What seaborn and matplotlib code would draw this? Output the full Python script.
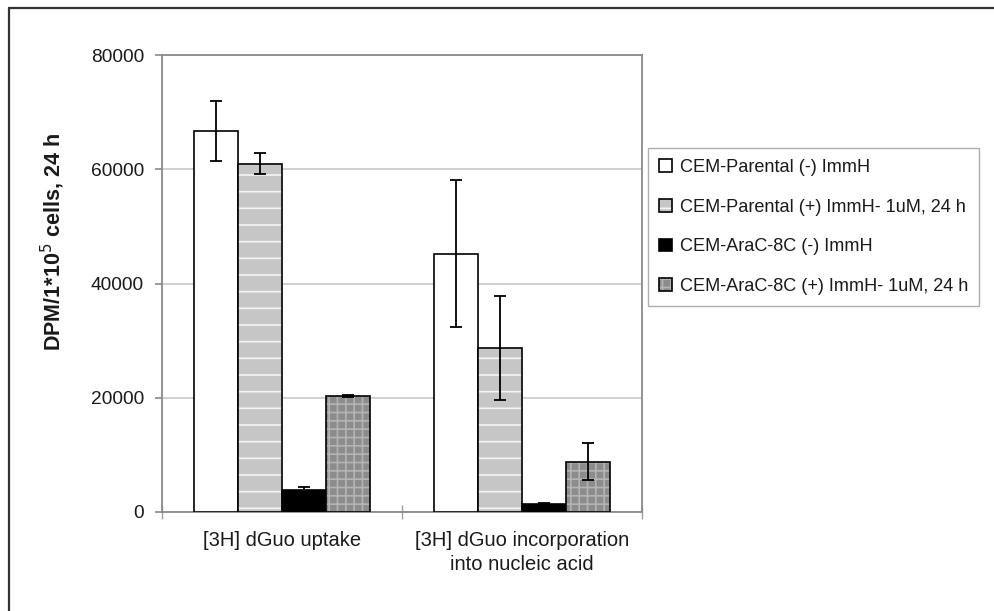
import matplotlib
matplotlib.use("Agg")
import matplotlib.pyplot as plt
from matplotlib.colors import to_rgba
from matplotlib.lines import Line2D
import seaborn as sns
import pandas as pd

# ---- data ----
categories = ["[3H] dGuo uptake", "[3H] dGuo incorporation\ninto nucleic acid"]
conditions = ["CEM-Parental (-) ImmH",
              "CEM-Parental (+) ImmH- 1uM, 24 h",
              "CEM-AraC-8C (-) ImmH",
              "CEM-AraC-8C (+) ImmH- 1uM, 24 h"]
parental_minus = [66700, 45200]
parental_plus = [61000, 28700]
arac_minus = [3900, 1350]
arac_plus = [20300, 8800]
err_parental_minus = [5300, 12900]
err_parental_plus = [1800, 9100]
err_arac_minus = [450, 150]
err_arac_plus = [200, 3200]
yticks = [0, 20000, 40000, 60000, 80000]

values = [parental_minus, parental_plus, arac_minus, arac_plus]
errors = [err_parental_minus, err_parental_plus, err_arac_minus, err_arac_plus]

rows = []
for cond, vals in zip(conditions, values):
    for cat, v in zip(categories, vals):
        rows.append({"assay": cat, "condition": cond, "dpm": v})
df = pd.DataFrame(rows)

# ---- style ----
sns.set_style("white")
plt.rcParams["font.family"] = ["Liberation Sans", "DejaVu Sans"]
plt.rcParams["hatch.linewidth"] = 1.2
text_color = "#1a1a1a"

fig = plt.figure(figsize=(9.95, 6.11), dpi=100)
ax = fig.add_axes([162 / 995, 1 - 512 / 611, 480 / 995, 457 / 611])

palette = {conditions[0]: "#ffffff", conditions[1]: "#c6c6c6",
           conditions[2]: "#000000", conditions[3]: "#8c8c8c"}

sns.barplot(data=df, x="assay", y="dpm", hue="condition", order=categories,
            hue_order=conditions, palette=palette, width=0.733, saturation=1,
            edgecolor="black", linewidth=1.2, errorbar=None, legend=False,
            gap=0, ax=ax, zorder=3)

bar_containers = list(ax.containers)[:4]

# patterns
hatches = [None, "-", None, "++"]
hatch_cols = [None, "#f4f4f4", None, "#b4b4b4"]
for cont, h, hc in zip(bar_containers, hatches, hatch_cols):
    if h is None:
        continue
    for p in cont:
        p.set_hatch(h)
        p._hatch_color = to_rgba(hc)

# error bars
for cont, err in zip(bar_containers, errors):
    xs = [p.get_x() + p.get_width() / 2 for p in cont]
    ys = [p.get_height() for p in cont]
    ax.errorbar(xs, ys, yerr=err, fmt="none", ecolor="black",
                elinewidth=1.3, capsize=4.5, capthick=1.3, zorder=4)

# axes
ax.set_ylim(0, 80000)
ax.set_xlim(-0.5, 1.5)
ax.set_yticks(yticks)
ax.set_yticklabels([str(t) for t in yticks], fontsize=13.8, color=text_color)
ax.yaxis.grid(True, color="#c8c8c8", linewidth=1.2, zorder=0)
ax.xaxis.grid(False)
ax.set_axisbelow(True)
for s in ax.spines.values():
    s.set_color("#8a8a8a")
    s.set_linewidth(1.3)
ax.tick_params(axis="y", direction="out", length=5, width=1.2,
               color="#8a8a8a", pad=8, left=True)
ax.set_xticks([0, 1])
ax.set_xticklabels(categories, fontsize=14.5, color=text_color, linespacing=1.35)
ax.tick_params(axis="x", which="major", length=0, pad=13.5)
ax.set_xticks([-0.5, 0.5, 1.5], minor=True)
ax.tick_params(axis="x", which="minor", direction="inout", length=10,
               width=1.0, color="#a0a0a0", bottom=True)
ax.set_xlabel("")
ax.set_ylabel(r"DPM/1*10$^{5}$ cells, 24 h", fontsize=15.5,
              fontweight="bold", color=text_color)
ax.yaxis.set_label_coords(-0.198, 0.59)

# legend
leg = ax.legend(handles=bar_containers, labels=conditions,
                loc="upper left", bbox_to_anchor=(648 / 995, 1 - 148 / 611),
                bbox_transform=fig.transFigure, fontsize=13.1,
                frameon=True, fancybox=False, shadow=False,
                handlelength=0.7, handleheight=0.7, handletextpad=0.45,
                labelspacing=1.25, borderpad=0.6, borderaxespad=0)
leg.get_frame().set_edgecolor("#9a9a9a")
leg.get_frame().set_linewidth(1.0)
for t in leg.get_texts():
    t.set_color(text_color)

# outer frame fragments (top and left)
fig.add_artist(Line2D([9 / 995, 1.0], [1 - 8 / 611, 1 - 8 / 611],
                      transform=fig.transFigure, color="#333333", linewidth=1.6))
fig.add_artist(Line2D([9 / 995, 9 / 995], [0.0, 1 - 8 / 611],
                      transform=fig.transFigure, color="#333333", linewidth=1.6))

fig.savefig("out.png", dpi=100)
